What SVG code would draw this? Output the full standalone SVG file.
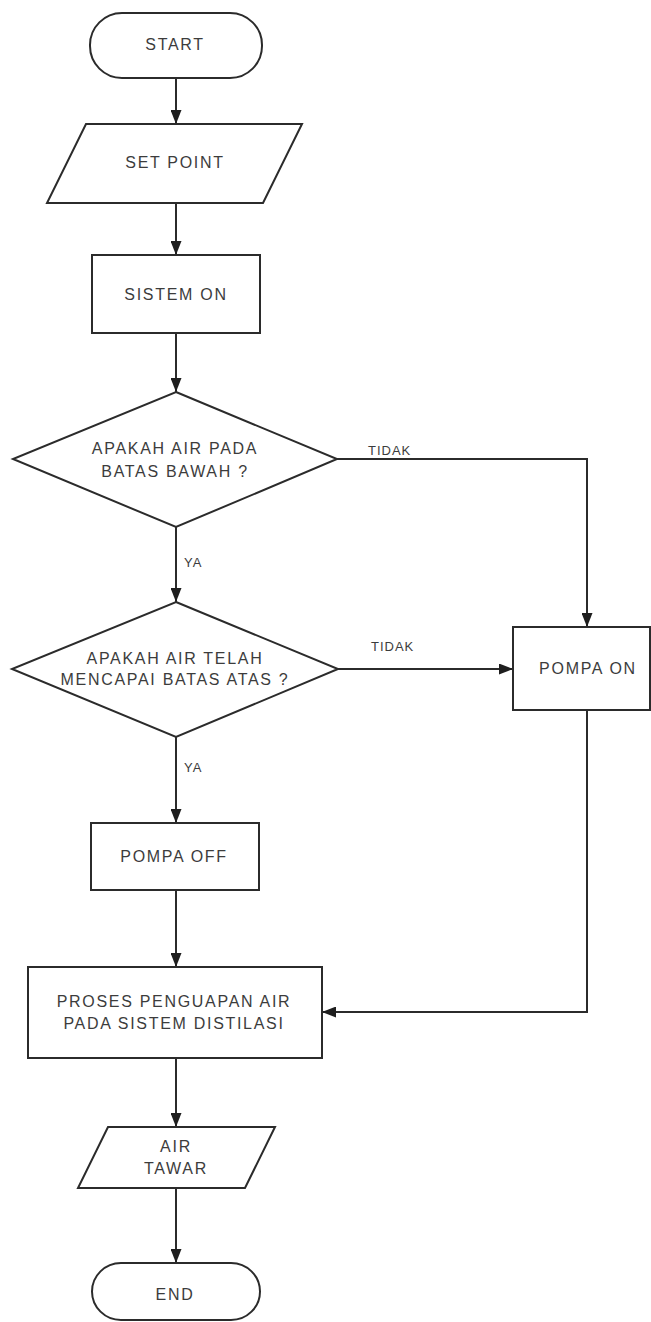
<svg xmlns="http://www.w3.org/2000/svg" width="651" height="1322" viewBox="0 0 651 1322">
  <defs>
    <marker id="arrow" markerUnits="userSpaceOnUse" markerWidth="14" markerHeight="11" viewBox="0 0 14 11" refX="14" refY="5.5" orient="auto">
      <path d="M0,0 L14,5.5 L0,11 z" fill="#1e1e1e"/>
    </marker>
    <style>
      .shape { fill: #ffffff; stroke: #2b2b2b; stroke-width: 2; }
      .edge { fill: none; stroke: #2b2b2b; stroke-width: 2; marker-end: url(#arrow); }
      .line { fill: none; stroke: #2b2b2b; stroke-width: 2; }
      .t { font-family: "Liberation Sans", Arial, sans-serif; font-size: 16px; letter-spacing: 1.7px; fill: #3c3c3c; text-anchor: middle; }
      .lbl { font-family: "Liberation Sans", Arial, sans-serif; font-size: 13px; letter-spacing: 1px; fill: #3c3c3c; }
    </style>
  </defs>
  <rect width="651" height="1322" fill="#ffffff"/>

  <!-- connectors -->
  <g id="connectors">
    <path class="edge" d="M176,78 L176,124"/>
    <path class="edge" d="M176,203 L176,255"/>
    <path class="edge" d="M176,333 L176,392"/>
    <path class="edge" d="M176,527 L176,602"/>
    <path class="edge" d="M337,459 L587,459 L587,627"/>
    <path class="edge" d="M338,669 L513,669"/>
    <path class="edge" d="M176,737 L176,823"/>
    <path class="edge" d="M176,890 L176,967"/>
    <path class="edge" d="M587,710 L587,1012 L322,1012"/>
    <path class="edge" d="M176,1058 L176,1127"/>
    <path class="edge" d="M176,1188 L176,1263"/>
    <text class="lbl" x="368" y="455">TIDAK</text>
    <text class="lbl" x="184" y="567">YA</text>
    <text class="lbl" x="371" y="651">TIDAK</text>
    <text class="lbl" x="184" y="772">YA</text>
  </g>

  <g id="start">
    <rect class="shape" x="90" y="13" width="172" height="65" rx="32" ry="32"/>
    <text class="t" x="175" y="50">START</text>
  </g>

  <g id="set-point">
    <polygon class="shape" points="86,124 302,124 263,203 47,203"/>
    <text class="t" x="175" y="168">SET POINT</text>
  </g>

  <g id="sistem-on">
    <rect class="shape" x="92" y="255" width="168" height="78"/>
    <text class="t" x="176" y="300">SISTEM ON</text>
  </g>

  <g id="cek-batas-bawah">
    <polygon class="shape" points="176,392 337,459 176,527 13,459"/>
    <text class="t" x="175" y="454">APAKAH AIR PADA</text>
    <text class="t" x="175" y="477">BATAS BAWAH ?</text>
  </g>

  <g id="cek-batas-atas">
    <polygon class="shape" points="176,602 338,669 176,737 12,669"/>
    <text class="t" x="175" y="664">APAKAH AIR TELAH</text>
    <text class="t" x="175" y="685">MENCAPAI BATAS ATAS ?</text>
  </g>

  <g id="pompa-on">
    <rect class="shape" x="513" y="627" width="137" height="83"/>
    <text class="t" x="588" y="674">POMPA ON</text>
  </g>

  <g id="pompa-off">
    <rect class="shape" x="91" y="823" width="168" height="67"/>
    <text class="t" x="174" y="862">POMPA OFF</text>
  </g>

  <g id="proses-penguapan">
    <rect class="shape" x="28" y="967" width="294" height="91"/>
    <text class="t" x="174" y="1007">PROSES PENGUAPAN AIR</text>
    <text class="t" x="174" y="1029">PADA SISTEM DISTILASI</text>
  </g>

  <g id="air-tawar">
    <polygon class="shape" points="108,1127 275,1127 245,1188 78,1188"/>
    <text class="t" x="176" y="1152">AIR</text>
    <text class="t" x="176" y="1174">TAWAR</text>
  </g>

  <g id="end">
    <rect class="shape" x="92" y="1263" width="168" height="57" rx="29" ry="29"/>
    <text class="t" x="175" y="1300">END</text>
  </g>
</svg>
